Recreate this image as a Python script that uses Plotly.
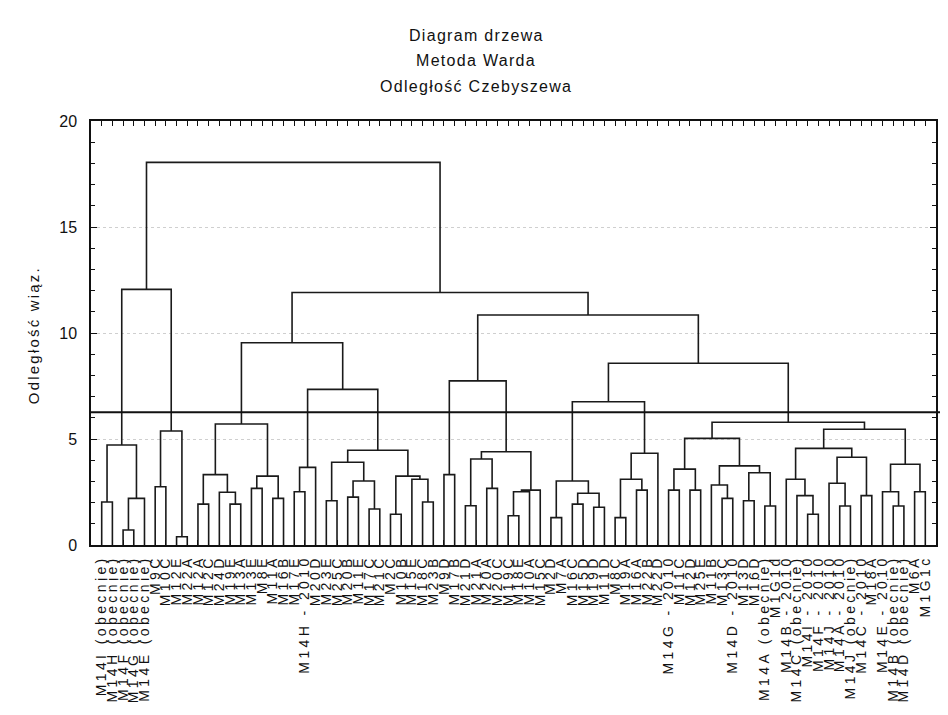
import plotly.graph_objects as go

# ---------------- data ----------------
leaf_labels = [
    "M14I (obecnie)", "M14H (obecnie)", "M14F (obecnie)", "M14G (obecnie)", "M14E (obecnie)",
    "M9C", "M10C", "M12E", "M22A", "M12A", "M12C", "M24D", "M19E", "M13A",
    "M13E", "M8E", "M11A", "M16B", "M17E", "M14H - 2010", "M20D",
    "M23E", "M25C", "M20B", "M11E", "M17C", "M21C", "M2C", "M10B",
    "M15E", "M18C", "M23B", "M9D", "M17B", "M21D", "M21A", "M20A",
    "M20C", "M19C", "M18E", "M10A", "M15C", "M2D", "M7A", "M16C",
    "M15D", "M19D", "M11D", "M8C", "M19A", "M16A", "M22B", "M22D",
    "M14G - 2010", "M11C", "M12D", "M25E", "M11B", "M13C", "M14D - 2010",
    "M13D", "M16D", "M14A (obecnie)", "M1G1d",
    "M14B - 2010", "M14C (obecnie)", "M14I - 2010", "M14F - 2010", "M14J - 2010",
    "M14A - 2010", "M14J (obecnie)", "M14C - 2010", "M18A", "M14E - 2010",
    "M14B (obecnie)", "M14D (obecnie)", "M6A", "M1G1c",
]

# linkage: positive = leaf number (1-based, display order), negative = earlier merge number
merge_left = [
    1, 3, -2, -1, 6, 8, -5, -4,
    10, 13, 12, -9, 15, 17, -13, -12,
    19, -17, 22, 24, 26, -20, -19, 28, 31, 30, -24, -23, -18, -16,
    33, 35, 37, -32, 39, -35, -36, -34, -31,
    43, 45, 47, -41, -40, 49, 51, -45, -47, -44,
    54, 56, -50, 59, 58, 61, 63, -55, -54, -52,
    67, 66, 65, 70, 69, 72, -64, -62, 75, 74, 77, -69, -67,
    -59, -49, -39, -30, -8,
]
merge_right = [
    2, 4, 5, -3, 7, 9, -6, -7,
    11, 14, -10, -11, 16, 18, -14, -15,
    20, 21, 23, 25, 27, -21, -22, 29, 32, -25, -26, -27, -28, -29,
    34, 36, 38, -33, 40, 41, 42, -37, -38,
    44, 46, 48, -42, -43, 50, 52, -46, 53, -48,
    55, 57, -51, 60, -53, 62, 64, -56, -57, -58,
    68, -60, -61, 71, -63, 73, -65, -66, 76, -68, 78, -70, -71,
    -72, -73, -74, -75, -76,
]
merge_height = [
    2.03, 0.71, 2.20, 4.72, 2.75, 0.39, 5.38, 12.06,
    1.93, 1.93, 2.49, 3.32, 2.67, 2.20, 3.25, 5.71,
    2.51, 3.66, 2.09, 2.26, 1.70, 3.02, 3.90, 1.45, 2.03, 3.10, 3.25, 4.47, 7.34, 9.54,
    3.32, 1.85, 2.67, 4.06, 1.38, 2.51, 2.59, 4.40, 7.74,
    1.29, 1.93, 1.78, 2.44, 3.02, 1.29, 2.59, 3.10, 4.33, 6.76,
    2.59, 2.59, 3.58, 2.20, 2.83, 2.09, 1.84, 3.41, 3.73, 5.03,
    1.45, 2.33, 3.10, 1.84, 2.91, 2.33, 4.14, 4.56, 1.84, 2.51, 2.51, 3.81, 5.46,
    5.79, 8.57, 10.85, 11.91, 18.05,
]
cut_height = 6.26

title_lines = ["Diagram drzewa", "Metoda Warda", "Odległość Czebyszewa"]
y_title = "Odległość wiąz."
y_ticks = [0, 5, 10, 15, 20]

# ---------------- build dendrogram segments ----------------
n_leaves = len(leaf_labels)
pos = {i: float(i) for i in range(1, n_leaves + 1)}
hgt = {i: 0.0 for i in range(1, n_leaves + 1)}
xs, ys = [], []
for k, (a, b, h) in enumerate(zip(merge_left, merge_right, merge_height), start=1):
    xa, ya, xb, yb = pos[a], hgt[a], pos[b], hgt[b]
    xs += [xa, xa, xb, xb, None]
    ys += [ya, h, h, yb, None]
    pos[-k] = (xa + xb) / 2.0
    hgt[-k] = h

FONT = "Liberation Sans, Arial, sans-serif"
INK = "#111111"

def spaced(t, sp):
    return f'<span style="letter-spacing:{sp}px">{t}</span>'

fig = go.Figure()
fig.add_trace(go.Scatter(x=xs, y=ys, mode="lines",
                         line=dict(color="#1a1a1a", width=1.6),
                         hoverinfo="skip", showlegend=False))

fig.add_shape(type="line", xref="paper", yref="y", x0=0, x1=1.03,
              y0=cut_height, y1=cut_height, line=dict(color=INK, width=2),
              layer="above")

# plot area: 847 x 424 px; page offset of 8 px compensated in margins
PW, PH = 847.0, 424.0
title_x = (477 - 91) / PW
for i, t in enumerate(title_lines):
    ypx = [35, 60, 86][i]
    fig.add_annotation(text=spaced(t, 1.3), xref="paper", yref="paper",
                       x=title_x, y=(545 - ypx) / PH, xanchor="center",
                       yanchor="middle", showarrow=False,
                       font=dict(family=FONT, size=16, color=INK))

fig.add_annotation(text=spaced(y_title, 2.2), xref="paper", yref="paper",
                   x=(33 - 91) / PW, y=(545 - 335) / PH, textangle=-90, showarrow=False,
                   xanchor="center", yanchor="middle",
                   font=dict(family=FONT, size=15, color=INK))

fig.update_layout(
    width=940, height=707,
    margin=dict(l=83, r=10, t=113, b=170),
    paper_bgcolor="white", plot_bgcolor="white",
    showlegend=False,
    xaxis=dict(range=[0, n_leaves + 1],
               tickmode="array",
               tickvals=list(range(1, n_leaves + 1)),
               ticktext=[spaced(t, 3.4) for t in leaf_labels],
               tickangle=-90, ticks="inside", ticklen=5, tickwidth=1,
               tickcolor=INK, ticklabelstandoff=3,
               showline=True, linecolor=INK, linewidth=1.5,
               mirror="allticks", showgrid=False, zeroline=False,
               tickfont=dict(family=FONT, size=14, color=INK)),
    yaxis=dict(range=[0, 20], tickmode="array", tickvals=y_ticks,
               ticktext=[str(v) for v in y_ticks],
               ticks="inside", ticklen=6, tickwidth=1.2, tickcolor=INK,
               minor=dict(dtick=1, ticks="inside", ticklen=4, tickcolor=INK,
                          showgrid=False),
               showline=True, linecolor=INK, linewidth=1.5,
               mirror="allticks", showgrid=True, gridcolor="#cfcfcf",
               griddash="dot", gridwidth=1, zeroline=False,
               ticklabelstandoff=9,
               tickfont=dict(family=FONT, size=16, color=INK)),
)

fig.write_html("out.html")
